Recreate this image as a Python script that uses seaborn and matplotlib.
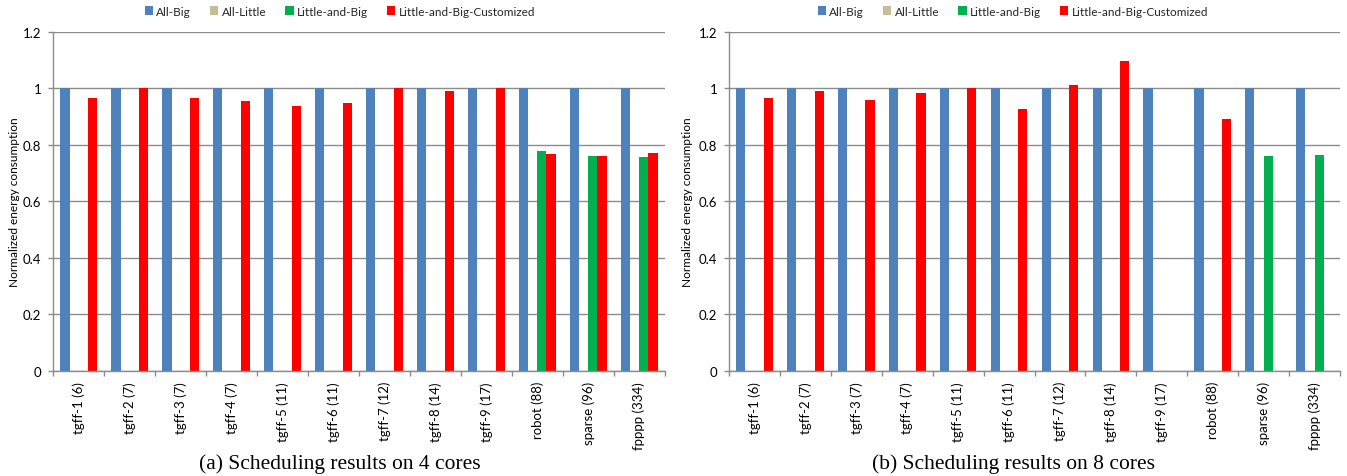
import numpy as np
import pandas as pd
import matplotlib
matplotlib.use("Agg")
import matplotlib.pyplot as plt
from matplotlib.patches import Patch
import seaborn as sns

nan = np.nan

benchmarks = ["tgff-1 (6)", "tgff-2 (7)", "tgff-3 (7)", "tgff-4 (7)", "tgff-5 (11)",
              "tgff-6 (11)", "tgff-7 (12)", "tgff-8 (14)", "tgff-9 (17)",
              "robot (88)", "sparse (96)", "fpppp (334)"]
configs = ["All-Big", "All-Little", "Little-and-Big", "Little-and-Big-Customized"]
colors = ["#4F81BD", "#C4BD97", "#00B050", "#FF0000"]

# 4 cores
all_big_4 = [1.0] * 12
all_little_4 = [nan] * 12
little_big_4 = [nan, nan, nan, nan, nan, nan, nan, nan, nan, 0.779, 0.759, 0.758]
little_big_cust_4 = [0.967, 1.0, 0.965, 0.955, 0.938, 0.948, 1.0, 0.99, 1.0, 0.767, 0.759, 0.771]

# 8 cores
all_big_8 = [1.0] * 12
all_little_8 = [nan] * 12
little_big_8 = [nan, nan, nan, nan, nan, nan, nan, nan, nan, nan, 0.762, 0.765]
little_big_cust_8 = [0.965, 0.99, 0.96, 0.985, 1.003, 0.928, 1.013, 1.097, nan, 0.892, nan, nan]

yticks = [0, 0.2, 0.4, 0.6, 0.8, 1.0, 1.2]
ytick_labels = ["0", "0.2", "0.4", "0.6", "0.8", "1", "1.2"]
ylabel = "Normalized energy consumption"
captions = ["(a) Scheduling results on 4 cores", "(b) Scheduling results on 8 cores"]


def long_frame(series):
    rows = []
    for cfg, vals in zip(configs, series):
        for b, v in zip(benchmarks, vals):
            rows.append({"benchmark": b, "config": cfg, "value": v})
    return pd.DataFrame(rows).dropna()


frames = [
    long_frame([all_big_4, all_little_4, little_big_4, little_big_cust_4]),
    long_frame([all_big_8, all_little_8, little_big_8, little_big_cust_8]),
]

sns.set_theme(style="white")
plt.rcParams["font.family"] = ["Lato", "DejaVu Sans"]

W, H = 1347, 477
fig = plt.figure(figsize=(W / 100, H / 100), dpi=100)

grid_color = "#8C8C8C"
axes_px = [(53.3, 664.7), (729.0, 1340.0)]
top_px, bottom_px = 33.0, 371.7
half_centers = [340, 1013]
ylabel_x = [-0.054, -0.059]

for i, df in enumerate(frames):
    x0, x1 = axes_px[i]
    ax = fig.add_axes([x0 / W, (H - bottom_px) / H, (x1 - x0) / W, (bottom_px - top_px) / H])
    sns.barplot(data=df, x="benchmark", y="value", hue="config",
                order=benchmarks, hue_order=configs, palette=colors,
                width=0.72, saturation=1, errorbar=None, legend=False,
                linewidth=0, ax=ax)
    ax.set_xlim(-0.5, len(benchmarks) - 0.5)
    ax.set_ylim(0, 1.2)
    ax.set_yticks(yticks)
    ax.set_yticklabels(ytick_labels)
    ax.yaxis.grid(True, color=grid_color, linewidth=1.0)
    ax.set_axisbelow(True)
    for s in ["top", "right"]:
        ax.spines[s].set_visible(False)
    for s in ["left", "bottom"]:
        ax.spines[s].set_color(grid_color)
        ax.spines[s].set_linewidth(1.0)
    ax.tick_params(axis="y", which="major", length=3.5, width=1.0, color=grid_color,
                   labelsize=9.5, pad=5, labelcolor="#000000", left=True)
    # category labels centred under groups; tick marks at group boundaries
    ax.set_xticks(range(len(benchmarks)))
    ax.set_xticklabels(benchmarks, rotation=90, fontsize=9.5, color="#000000")
    ax.tick_params(axis="x", which="major", length=0, pad=7.5)
    ax.set_xticks(np.arange(-0.5, len(benchmarks)), minor=True)
    ax.tick_params(axis="x", which="minor", length=3.5, width=1.0, color=grid_color,
                   bottom=True)
    ax.set_xlabel("")
    ax.set_ylabel(ylabel, fontsize=8.6, color="#000000")
    ax.yaxis.set_label_coords(ylabel_x[i], 0.5)

    handles = [Patch(facecolor=c, edgecolor="none") for c in colors]
    fig.legend(handles, configs, loc="center",
               bbox_to_anchor=(half_centers[i] / W, 1 - 12 / H),
               ncol=4, frameon=False, fontsize=8.5, handlelength=0.7,
               handleheight=0.7, handletextpad=0.3, columnspacing=1.6)

    fig.text(half_centers[i] / W, 1 - 464 / H, captions[i], ha="center", va="center",
             fontsize=15.5, family=["Liberation Serif", "DejaVu Serif"], color="#000000")

fig.savefig("out.png", dpi=100, facecolor="white")
